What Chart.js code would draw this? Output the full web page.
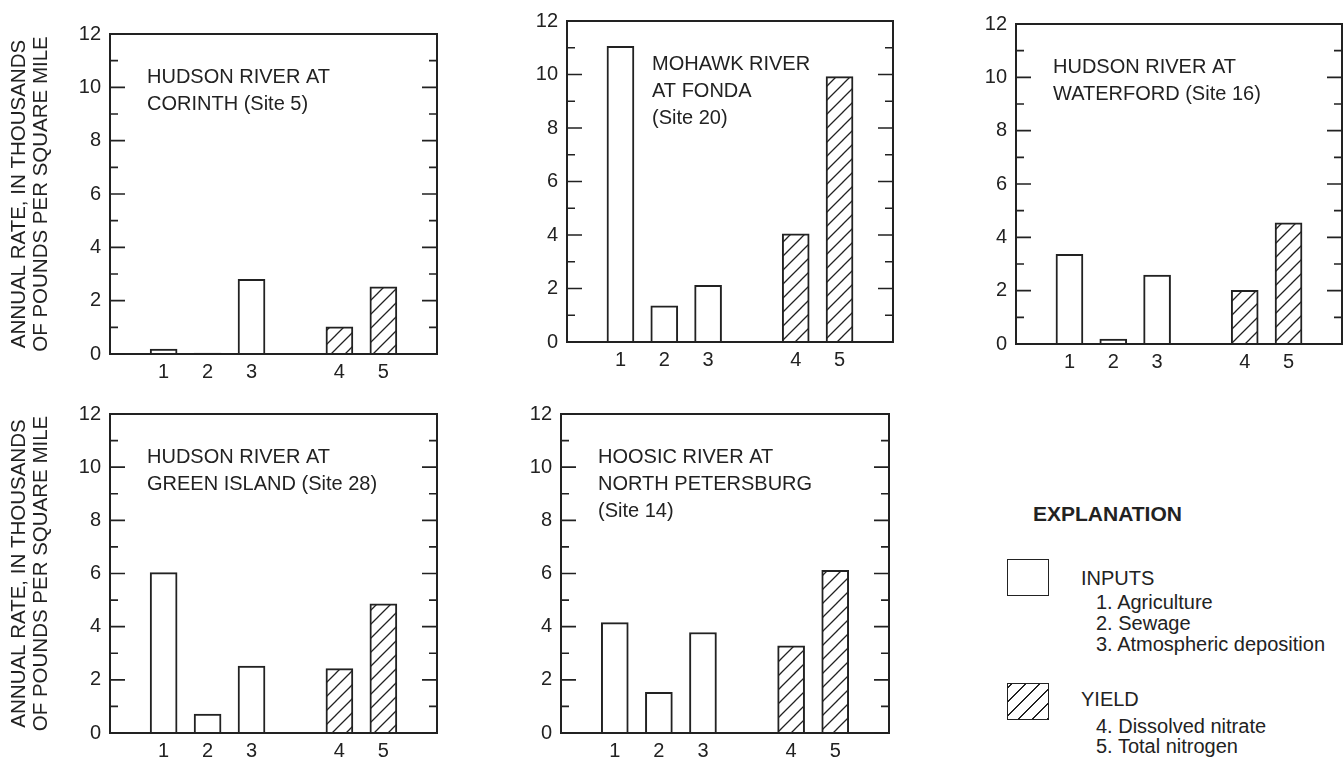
<!DOCTYPE html>
<html>
<head>
<meta charset="utf-8">
<script src="https://cdn.jsdelivr.net/npm/chart.js@4.4.1/dist/chart.umd.min.js"></script>
<style>
  body { margin: 0; background: #fff; width: 1343px; height: 759px; overflow: hidden; position: relative;
         font-family: "Liberation Sans", Arial, sans-serif; color: #222; }
  canvas { position: absolute; }
  .lg { position: absolute; white-space: nowrap; font-size: 20px; }
  .box { position: absolute; box-sizing: border-box; border: 1.6px solid #222; background: #fff; }
</style>
</head>
<body>
<canvas id="corinth" width="445" height="376" style="left:0;top:13px"></canvas>
<canvas id="fonda" width="394" height="377" style="left:507px;top:0"></canvas>
<canvas id="waterford" width="387" height="376" style="left:956px;top:3px"></canvas>
<canvas id="greenIsland" width="445" height="375" style="left:0;top:393px"></canvas>
<canvas id="petersburg" width="395" height="375" style="left:501px;top:393px"></canvas>

<div class="lg" style="left:1033px;top:502px;font-size:21px;font-weight:bold;line-height:24px">EXPLANATION</div>
<div class="box" style="left:1007px;top:559px;width:42px;height:37px"></div>
<div class="lg" style="left:1081px;top:567px;line-height:22px">INPUTS</div>
<div class="lg" style="left:1096px;top:592px;line-height:21px">1. Agriculture<br>2. Sewage<br>3. Atmospheric deposition</div>
<div class="box" style="left:1007px;top:683px;width:42px;height:37px;
     background:repeating-linear-gradient(-45deg, #222 0 1.4px, #fff 1.4px 10px)"></div>
<div class="lg" style="left:1081px;top:688px;line-height:22px">YIELD</div>
<div class="lg" style="left:1096px;top:716px;line-height:20px">4. Dissolved nitrate<br>5. Total nitrogen</div>

<script>
// categories: 1-3 inputs, 4-5 yield (a blank slot sits between 3 and 4)
const xLabels = ['1', '2', '3', '4', '5'];
const xPositions = [1, 2, 3, 5, 6];
const barKind = ['input', 'input', 'input', 'yield', 'yield'];

// annual rate, thousands of pounds per square mile
const corinth = [0.18, 0.03, 2.8, 1.02, 2.52];
const fonda = [11.05, 1.35, 2.12, 4.04, 9.92];
const waterford = [3.36, 0.18, 2.58, 2.01, 4.54];
const greenIsland = [6.03, 0.71, 2.52, 2.42, 4.86];
const petersburg = [4.15, 1.53, 3.78, 3.28, 6.12];

const yTitle = ['ANNUAL RATE, IN THOUSANDS', 'OF POUNDS PER SQUARE MILE'];
const ink = '#222';
const fam = '"Liberation Sans", Arial, sans-serif';

function hatch(ctx) {
    const s = 14, c = document.createElement('canvas');
    c.width = c.height = s;
    const g = c.getContext('2d');
    g.fillStyle = '#fff';
    g.fillRect(0, 0, s, s);
    g.strokeStyle = ink;
    g.lineWidth = 1.3;
    g.beginPath();
    g.moveTo(-2, s + 2); g.lineTo(s + 2, -2);
    g.moveTo(-2, 2); g.lineTo(2, -2);
    g.moveTo(s - 2, s + 2); g.lineTo(s + 2, s - 2);
    g.stroke();
    return ctx.createPattern(c, 'repeat');
}

// box around the plot, inward ticks on both sides, site name inside
const framePlugin = {
    id: 'frame',
    afterDatasetsDraw(chart, args, o) {
        const { ctx, chartArea: a } = chart;
        const y = chart.scales.y;
        ctx.save();
        ctx.strokeStyle = ink;
        ctx.lineWidth = 2;
        ctx.strokeRect(a.left, a.top, a.right - a.left, a.bottom - a.top);
        ctx.lineWidth = 1.6;
        ctx.beginPath();
        for (let v = y.min; v <= y.max; v++) {
            const py = y.getPixelForValue(v);
            const len = v % 2 === 0 ? 15 : 8;
            ctx.moveTo(a.left, py); ctx.lineTo(a.left + len, py);
            ctx.moveTo(a.right, py); ctx.lineTo(a.right - len, py);
        }
        ctx.stroke();
        ctx.fillStyle = ink;
        ctx.font = '20px ' + fam;
        ctx.textBaseline = 'middle';
        o.lines.forEach((t, i) => ctx.fillText(t, a.left + o.dx, a.top + 43 + i * 27));
        ctx.restore();
    }
};

function panel(id, values, lines, dx, axisW, padRight, withTitle) {
    const canvas = document.getElementById(id);
    const pat = hatch(canvas.getContext('2d'));
    new Chart(canvas, {
        type: 'bar',
        data: {
            datasets: [{
                data: xPositions.map((p, i) => ({ x: p, y: values[i] })),
                backgroundColor: barKind.map(k => k === 'yield' ? pat : '#fff'),
                borderColor: ink,
                borderWidth: 2,
                barThickness: 27
            }]
        },
        options: {
            responsive: false,
            animation: false,
            events: [],
            layout: { padding: { top: 15, right: padRight, left: 0, bottom: 0 } },
            plugins: {
                legend: { display: false },
                tooltip: { enabled: false },
                frame: { lines: lines, dx: dx }
            },
            scales: {
                x: {
                    type: 'linear',
                    min: -0.22,
                    max: 7.22,
                    offset: false,
                    grid: { display: false, drawTicks: false },
                    border: { display: false },
                    afterBuildTicks: s => { s.ticks = xPositions.map(v => ({ value: v })); },
                    afterFit: s => { s.height = 35; },
                    ticks: {
                        padding: 6,
                        autoSkip: false,
                        maxRotation: 0,
                        color: ink,
                        font: { size: 20, family: fam },
                        callback: v => xLabels[xPositions.indexOf(v)]
                    }
                },
                y: {
                    min: 0,
                    max: 12,
                    grid: { display: false, drawTicks: false },
                    border: { display: false },
                    afterFit: s => { s.width = axisW; },
                    ticks: { stepSize: 2, padding: 9, color: ink, font: { size: 20, family: fam } },
                    title: {
                        display: withTitle,
                        text: yTitle,
                        color: ink,
                        font: { size: 20.5, family: fam, lineHeight: 1.08 },
                        padding: { top: 8, bottom: 0 }
                    }
                }
            }
        },
        plugins: [framePlugin]
    });
}

panel('corinth', corinth, ['HUDSON RIVER AT', 'CORINTH (Site 5)'], 37, 110, 8, true);
panel('fonda', fonda, ['MOHAWK RIVER', 'AT FONDA', '(Site 20)'], 85, 60, 8, false);
panel('waterford', waterford, ['HUDSON RIVER AT', 'WATERFORD (Site 16)'], 37, 60, 1, false);
panel('greenIsland', greenIsland, ['HUDSON RIVER AT', 'GREEN ISLAND (Site 28)'], 37, 110, 8, true);
panel('petersburg', petersburg, ['HOOSIC RIVER AT', 'NORTH PETERSBURG', '(Site 14)'], 37, 60, 7, false);
</script>
</body>
</html>
